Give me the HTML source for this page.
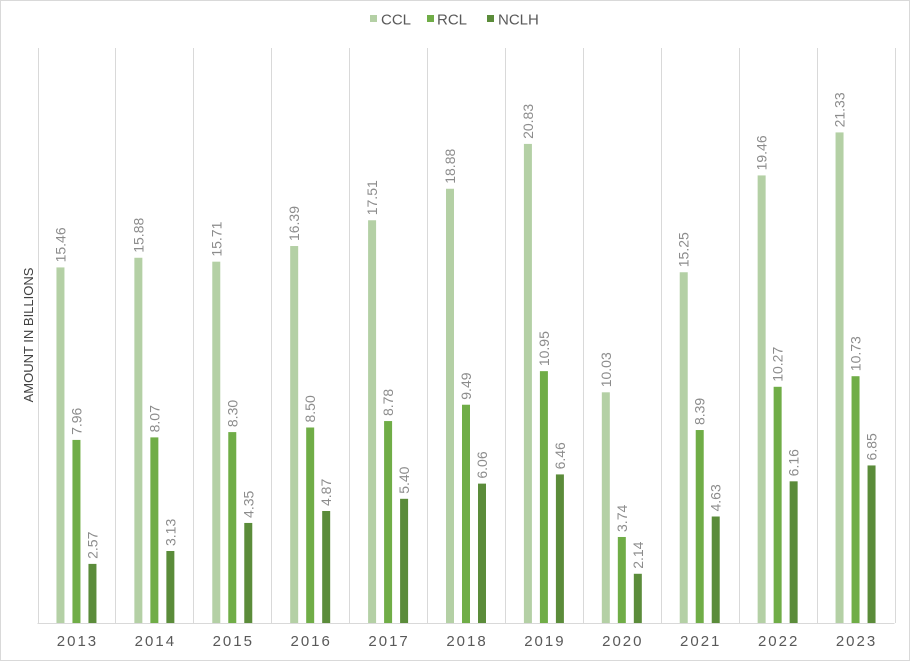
<!DOCTYPE html>
<html><head><meta charset="utf-8"><style>
html,body{margin:0;padding:0;background:#fff;}
svg{display:block;font-family:"Liberation Sans",Arial,sans-serif;}
</style></head><body>
<svg id="chart" width="910" height="661" viewBox="0 0 910 661" xmlns="http://www.w3.org/2000/svg">
<rect x="0.5" y="0.5" width="909" height="660" fill="#fff" stroke="#d9d9d9"/>
<g>
<rect x="370" y="15" width="7" height="7" fill="#b4d0a5"/>
<text x="381" y="24.5" font-size="15" fill="#595959">CCL</text>
<rect x="427" y="15" width="7" height="7" fill="#70ad47"/>
<text x="437" y="24.5" font-size="15" fill="#595959">RCL</text>
<rect x="487" y="15" width="7" height="7" fill="#5b8c3a"/>
<text x="498" y="24.5" font-size="15" fill="#595959">NCLH</text>
</g>
<text transform="translate(33,335) rotate(-90)" text-anchor="middle" font-size="13" fill="#404040">AMOUNT IN BILLIONS</text>
<g id="grid"></g><g id="bars"></g><g id="labels"></g>
</svg>
<script>
const categories = ["2013","2014","2015","2016","2017","2018","2019","2020","2021","2022","2023"];
const ccl = [15.46,15.88,15.71,16.39,17.51,18.88,20.83,10.03,15.25,19.46,21.33];
const rcl = [7.96,8.07,8.30,8.50,8.78,9.49,10.95,3.74,8.39,10.27,10.73];
const nclh = [2.57,3.13,4.35,4.87,5.40,6.06,6.46,2.14,4.63,6.16,6.85];
const yMax = 25;
const X0 = 37.5, X1 = 894.5, Y0 = 623, Y1 = 48;
const bw = (X1 - X0) / categories.length;
const y = v => Y0 - v / yMax * (Y0 - Y1);
const NS = "http://www.w3.org/2000/svg";
const grid = document.getElementById('grid'), bars = document.getElementById('bars'), labels = document.getElementById('labels');
function mk(tag, attrs, parent){const e=document.createElementNS(NS,tag);for(const k in attrs)e.setAttribute(k,attrs[k]);parent.appendChild(e);return e;}
for(let i=0;i<=categories.length;i++){
  const gx = Math.round(X0 + i*bw)+0.5;
  const l = mk('line',{x1:gx,x2:gx,y1:Y1,y2:Y0,stroke:'#d9d9d9','stroke-width':1},grid);
  
  
}
const ax = mk('line',{x1:X0,x2:X1,y1:Y0+0.5,y2:Y0+0.5,stroke:'#d9d9d9','stroke-width':1},grid);


const series = [[ccl,'#b4d0a5',-16,'ccl'],[rcl,'#70ad47',0,'rcl'],[nclh,'#5b8c3a',16,'nclh']];
categories.forEach((c,i)=>{
  const cx = X0 + (i+0.5)*bw;
  const t = mk('text',{x:cx+1,y:646,'text-anchor':'middle','font-size':15,fill:'#595959','letter-spacing':'2'},labels);
  t.textContent = c;
  
  
  series.forEach(([vals,col,off,nm])=>{
    const v = vals[i];
    const r = mk('rect',{x:cx+off-4,y:y(v),width:8,height:Y0-y(v),fill:col},bars);
    
    
    const lx = cx+off+5, ly = y(v)-5;
    const lt = mk('text',{transform:`translate(${lx},${ly}) rotate(-90)`,'font-size':14,fill:'#8c8c8c'},labels);
    lt.textContent = v.toFixed(2);
    
    
  });
});
</script>
</body></html>
